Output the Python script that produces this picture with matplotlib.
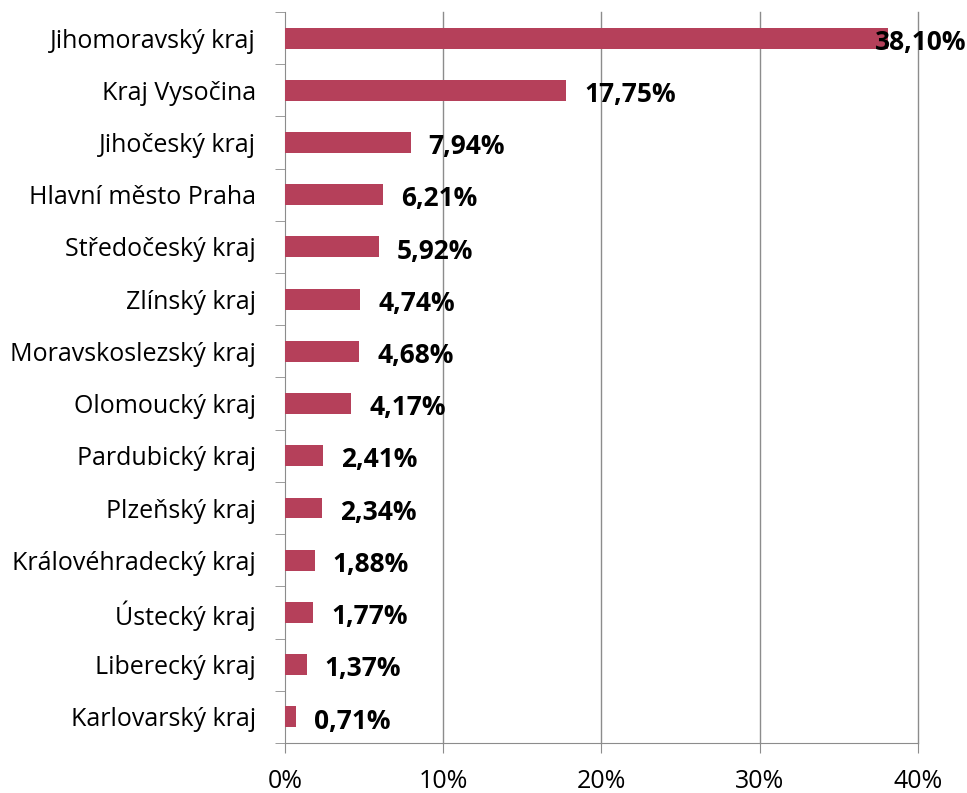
import matplotlib.pyplot as plt
import numpy as np

# data
regions = ['Jihomoravský kraj', 'Kraj Vysočina', 'Jihočeský kraj', 'Hlavní město Praha',
           'Středočeský kraj', 'Zlínský kraj', 'Moravskoslezský kraj', 'Olomoucký kraj',
           'Pardubický kraj', 'Plzeňský kraj', 'Královéhradecký kraj', 'Ústecký kraj',
           'Liberecký kraj', 'Karlovarský kraj']
shares = [38.10, 17.75, 7.94, 6.21, 5.92, 4.74, 4.68, 4.17, 2.41, 2.34, 1.88, 1.77, 1.37, 0.71]
x_ticks = [0, 10, 20, 30, 40]

plt.rcParams['font.family'] = ['Open Sans', 'DejaVu Sans']

fig = plt.figure(figsize=(9.67, 7.93), dpi=100)
ax = fig.add_axes([0.2947, 0.0631, 0.6546, 0.9218])

grey = '#8c8c8c'
y = np.arange(len(regions))
ax.barh(y, shares, height=0.4, color='#b5405a', zorder=3)

ax.set_xlim(0, 40)
ax.set_ylim(len(regions) - 0.5, -0.5)
ax.set_xticks(x_ticks)
ax.set_xticklabels([f'{t}%' for t in x_ticks], fontsize=18)
ax.set_yticks(y)
ax.set_yticklabels(regions, fontsize=18)
ax.set_yticks(np.arange(len(regions) + 1) - 0.5, minor=True)
ax.tick_params(axis='y', which='major', length=0, pad=21)
ax.tick_params(axis='y', which='minor', length=7, color=grey, direction='out')
ax.tick_params(axis='x', length=7, color=grey, pad=12)
for t in x_ticks[1:]:
    ax.axvline(t, color=grey, linewidth=1, zorder=0, clip_on=False)

for s in ['top', 'right']:
    ax.spines[s].set_visible(False)
for s in ['left', 'bottom']:
    ax.spines[s].set_color(grey)

for i, v in enumerate(shares):
    label = f'{v:.2f}%'.replace('.', ',')
    off = -9 if v > 35 else 13
    ax.annotate(label, (v, i), xytext=(off, -3), textcoords='offset points',
                ha='left', va='center', fontsize=19, fontweight='bold', zorder=4,
                annotation_clip=False)

fig.savefig('out.png', dpi=100)
